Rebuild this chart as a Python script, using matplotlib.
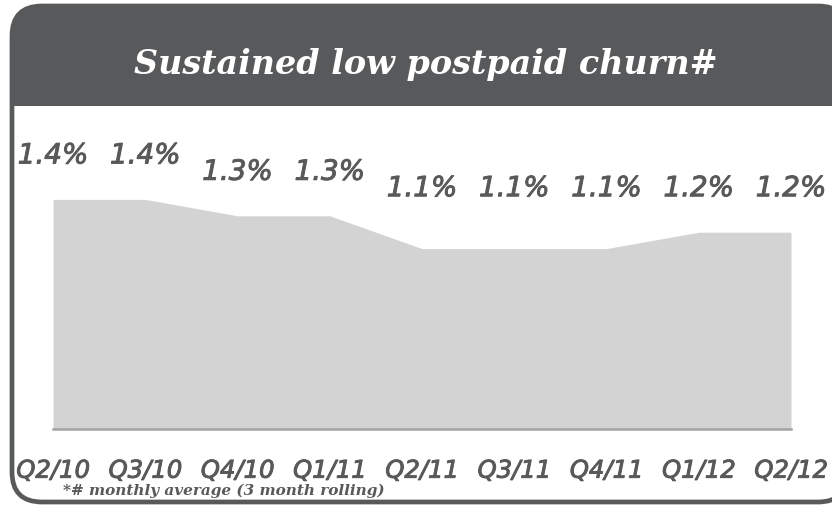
import matplotlib
matplotlib.use("Agg")
import matplotlib.pyplot as plt
import matplotlib.patheffects as pe
from matplotlib.patches import FancyBboxPatch, Rectangle

# data
quarters = ["Q2/10", "Q3/10", "Q4/10", "Q1/11", "Q2/11",
            "Q3/11", "Q4/11", "Q1/12", "Q2/12"]
churn = [1.4, 1.4, 1.3, 1.3, 1.1, 1.1, 1.1, 1.2, 1.2]

title = "Sustained low postpaid churn#"
footnote = "*# monthly average (3 month rolling)"

dark = "#58595b"
area = "#d3d3d3"
W, H = 832, 506

fig = plt.figure(figsize=(W / 100, H / 100), dpi=100, facecolor="white")

# background axes in pixel units for the frame
bg = fig.add_axes([0, 0, 1, 1])
bg.set_xlim(0, W)
bg.set_ylim(H, 0)
bg.axis("off")

# filled patch so agg does not clip the outline along the figure edge
frame = FancyBboxPatch((12, 7), 836, 496,
                       boxstyle="round,pad=0,rounding_size=30",
                       facecolor="white", edgecolor=dark, linewidth=3.4)
bg.add_patch(frame)
band = Rectangle((0, 0), W + 30, 107, facecolor=dark, edgecolor="none")
band.set_clip_path(frame)
bg.add_patch(band)

bg.text(W / 2 + 10, 64, title, color="white", fontsize=24,
        family="DejaVu Serif", style="italic", weight="bold",
        ha="center", va="center")
bg.text(224, 491, footnote, color=dark, fontsize=11,
        family="DejaVu Serif", style="italic", weight="bold",
        ha="center", va="center")

# chart axes: x 53..791 px, baseline at y=430 px, 164 px per unit
px_per_unit = 164.0
top_px = 130
ax = fig.add_axes([53 / W, (H - 430) / H, (791 - 53) / W, (430 - top_px) / H])
ax.patch.set_alpha(0)
x = list(range(len(quarters)))
ax.fill_between(x, 0, churn, color=area, linewidth=0)
ax.set_xlim(0, len(quarters) - 1)
ax.set_ylim(0, (430 - top_px) / px_per_unit)
for s in ["top", "right", "left"]:
    ax.spines[s].set_visible(False)
ax.spines["bottom"].set_color("#a3a3a3")
ax.spines["bottom"].set_linewidth(1.8)
ax.set_yticks([])
ax.set_xticks(x)
ax.set_xticklabels(quarters, fontsize=17.5, style="italic", color=dark,
                   family="DejaVu Sans")
ax.tick_params(axis="x", length=0, pad=30)
thick = [pe.withStroke(linewidth=0.7, foreground=dark)]
for lab in ax.get_xticklabels():
    lab.set_verticalalignment("center")
    lab.set_path_effects(thick)

offset = 44 / px_per_unit
for xi, v in zip(x, churn):
    ax.text(xi, max(v, 1.2) + offset, f"{v:.1f}%", ha="center", va="center",
            fontsize=20, style="italic", color=dark, family="DejaVu Sans",
            clip_on=False, path_effects=thick)

fig.savefig("out.png", dpi=100, facecolor="white")
